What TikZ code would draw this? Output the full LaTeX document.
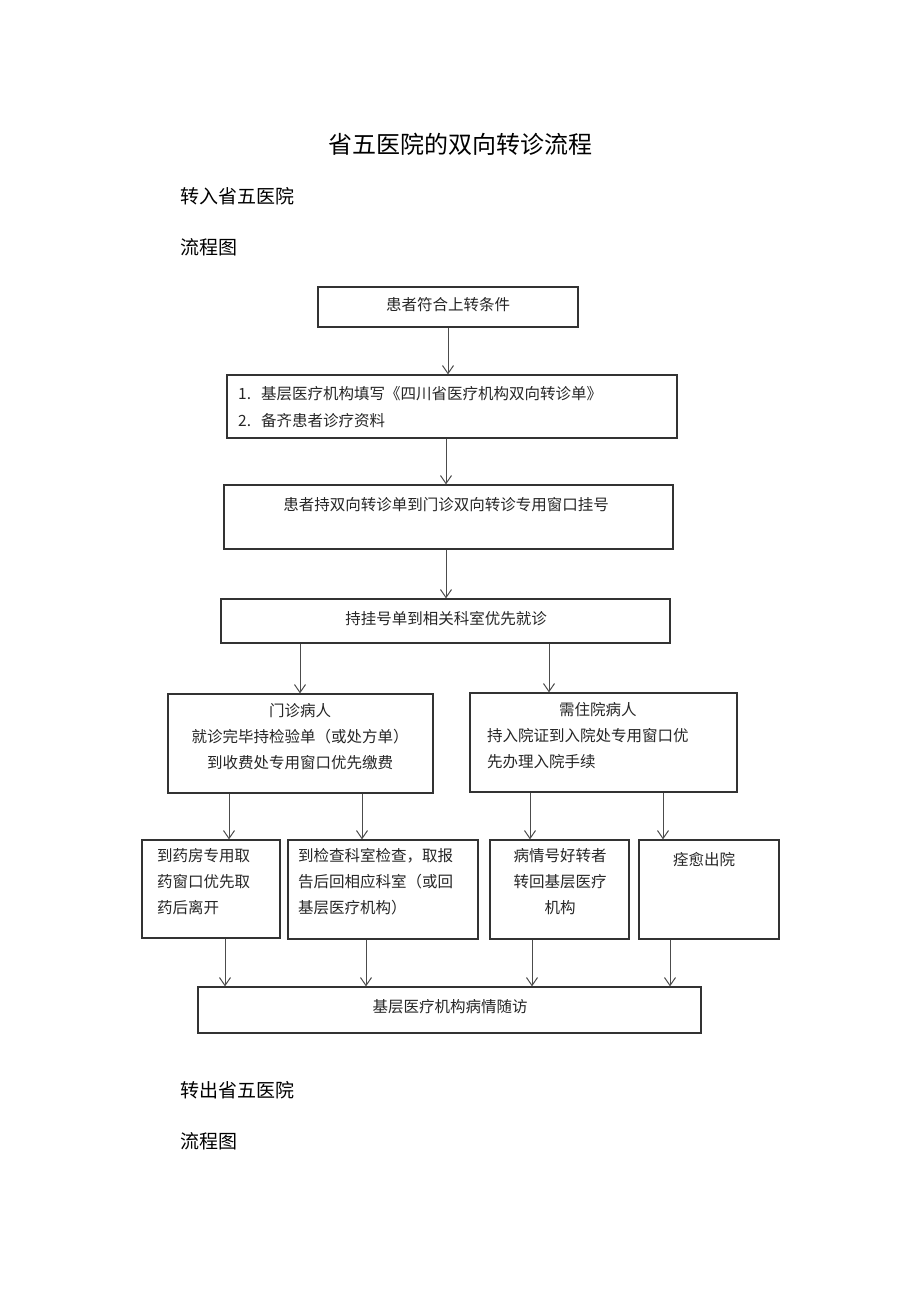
\documentclass[tikz,border=0pt]{standalone}
\usepackage{fontspec}
\setmainfont{Noto Sans CJK SC}
\usetikzlibrary{arrows.meta}
\begin{document}
\begin{tikzpicture}[x=1pt,y=-1pt,
 box/.style={draw=black!80,line width=1.2pt,inner sep=0pt},
 txt/.style={font=\fontsize{15.5}{26}\selectfont,inner sep=0pt,text=black!85},
 hd/.style={font=\fontsize{19}{22}\selectfont,anchor=west,inner sep=0pt},
 arr/.style={draw=black!70,line width=1pt,-{Straight Barb[length=8pt,width=11pt,line width=1pt]}}]
\useasboundingbox[fill=white] (0,0) rectangle (920,1301);
\node[font=\fontsize{24}{26}\selectfont,inner sep=0pt] (title) at (460,144) {省五医院的双向转诊流程};
\node[hd] (h1) at (180,196) {转入省五医院};
\node[hd] (h2) at (180,247) {流程图};
\node[hd] (h3) at (180,1090) {转出省五医院};
\node[hd] (h4) at (180,1141) {流程图};
\newcommand{\bx}[5]{\node[box,minimum width=#4-#2,minimum height=#5-#3] (#1) at ({(#2+#4)/2},{(#3+#5)/2}) {};}
\bx{b1}{318}{287}{578}{327}
\bx{b2}{227}{375}{677}{438}
\bx{b3}{224}{485}{673}{549}
\bx{b4}{221}{599}{670}{643}
\bx{b5}{168}{694}{433}{793}
\bx{b6}{470}{693}{737}{792}
\bx{b7}{142}{840}{280}{938}
\bx{b8}{288}{840}{478}{939}
\bx{b9}{490}{840}{629}{939}
\bx{b10}{639}{840}{779}{939}
\bx{b11}{198}{987}{701}{1033}
\node[txt] (t1) at (448,305) {患者符合上转条件};
\node[txt,anchor=west] (t2a) at (238,394) {1.\hspace{10pt}基层医疗机构填写《四川省医疗机构双向转诊单》};
\node[txt,anchor=west] (t2b) at (238,421) {2.\hspace{10pt}备齐患者诊疗资料};
\node[txt] (t3) at (446,505) {患者持双向转诊单到门诊双向转诊专用窗口挂号};
\node[txt] (t4) at (446,619) {持挂号单到相关科室优先就诊};
\node[txt,align=center,anchor=north] (t5) at (300,703) {门诊病人\\就诊完毕持检验单（或处方单）\\到收费处专用窗口优先缴费};
\node[txt,align=left,anchor=north west] (t6) at (487,702) {\hspace{72pt}需住院病人\\持入院证到入院处专用窗口优\\先办理入院手续};
\node[txt,align=left,anchor=north west] (t7) at (157,848) {到药房专用取\\药窗口优先取\\药后离开};
\node[txt,align=left,anchor=north west] (t8) at (298,848) {到检查科室检查，取报\\告后回相应科室（或回\\基层医疗机构）};
\node[txt,align=center,anchor=north] (t9) at (560,848) {病情号好转者\\转回基层医疗\\机构};
\node[txt] (t10) at (704,860) {痊愈出院};
\node[txt] (t11) at (450,1007) {基层医疗机构病情随访};
\draw[arr] (b1.south -| 448,0) -- (b2.north -| 448,0);
\draw[arr] (b2.south -| 446,0) -- (b3.north -| 446,0);
\draw[arr] (b3.south -| 446,0) -- (b4.north -| 446,0);
\draw[arr] (b4.south -| 300,0) -- (b5.north -| 300,0);
\draw[arr] (b4.south -| 549,0) -- (b6.north -| 549,0);
\draw[arr] (b5.south -| 229,0) -- (b7.north -| 229,0);
\draw[arr] (b5.south -| 362,0) -- (b8.north -| 362,0);
\draw[arr] (b6.south -| 530,0) -- (b9.north -| 530,0);
\draw[arr] (b6.south -| 663,0) -- (b10.north -| 663,0);
\draw[arr] (b7.south -| 225,0) -- (b11.north -| 225,0);
\draw[arr] (b8.south -| 366,0) -- (b11.north -| 366,0);
\draw[arr] (b9.south -| 532,0) -- (b11.north -| 532,0);
\draw[arr] (b10.south -| 670,0) -- (b11.north -| 670,0);
\end{tikzpicture}
\end{document}
